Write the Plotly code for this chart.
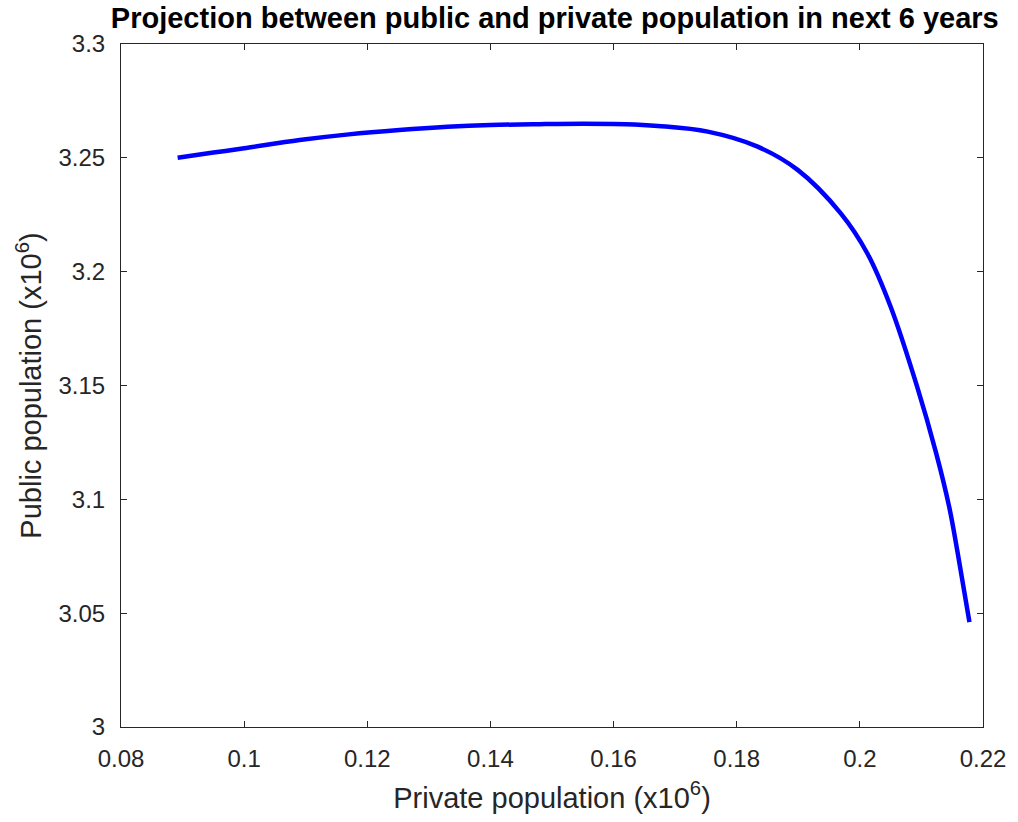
import plotly.graph_objects as go

# Private vs public population trajectory (both in millions)
private_pop = [0.0892, 0.0950, 0.1000, 0.1090, 0.1170, 0.1252, 0.1330, 0.1400,
               0.1480, 0.1550, 0.1620, 0.1672, 0.1753, 0.1834, 0.1899, 0.1969,
               0.2012, 0.2050, 0.2093, 0.2124, 0.2145, 0.2159, 0.2178]
public_pop = [3.2500, 3.2523, 3.2542, 3.2578, 3.2603, 3.2622, 3.2636, 3.2644,
              3.2648, 3.2650, 3.2648, 3.2640, 3.2615, 3.2549, 3.2447, 3.2256,
              3.2081, 3.1846, 3.1495, 3.1202, 3.0968, 3.0763, 3.0461]

x_ticks = [0.08, 0.10, 0.12, 0.14, 0.16, 0.18, 0.20, 0.22]
x_tick_labels = ["0.08", "0.1", "0.12", "0.14", "0.16", "0.18", "0.2", "0.22"]
y_ticks = [3.00, 3.05, 3.10, 3.15, 3.20, 3.25, 3.30]
y_tick_labels = ["3", "3.05", "3.1", "3.15", "3.2", "3.25", "3.3"]

axis_color = "#262626"
font_family = "Liberation Sans, Arial, sans-serif"

fig = go.Figure(
    go.Scatter(
        x=private_pop,
        y=public_pop,
        mode="lines",
        line=dict(color="#0000ff", width=4.5, shape="spline", smoothing=1.0),
        showlegend=False,
    )
)

common_axis = dict(
    showgrid=False,
    zeroline=False,
    showline=True,
    linecolor=axis_color,
    linewidth=1,
    mirror="allticks",
    ticks="inside",
    ticklen=6,
    tickwidth=1,
    tickcolor=axis_color,
    tickfont=dict(family=font_family, size=24, color=axis_color),
)

fig.update_xaxes(
    range=[0.08, 0.22],
    tickvals=x_ticks,
    ticktext=x_tick_labels,
    ticklabelstandoff=10,
    title=dict(text="Private population (x10<sup>6</sup>)",
               font=dict(family=font_family, size=29, color=axis_color),
               standoff=16),
    **common_axis,
)
fig.update_yaxes(
    range=[3.0, 3.3],
    tickvals=y_ticks,
    ticktext=y_tick_labels,
    ticklabelstandoff=10,
    title=dict(text="Public population (x10<sup>6</sup>)",
               font=dict(family=font_family, size=29, color=axis_color),
               standoff=8),
    **common_axis,
)

fig.update_layout(
    width=1018,
    height=822,
    margin=dict(l=121, r=32, t=44, b=95),
    paper_bgcolor="white",
    plot_bgcolor="white",
    title=dict(
        text="<b>Projection between public and private population in next 6 years</b>",
        font=dict(family=font_family, size=29, color="black"),
        x=0.545,
        xanchor="center",
        y=0.978,
        yanchor="middle",
    ),
)

fig.write_html("out.html")
